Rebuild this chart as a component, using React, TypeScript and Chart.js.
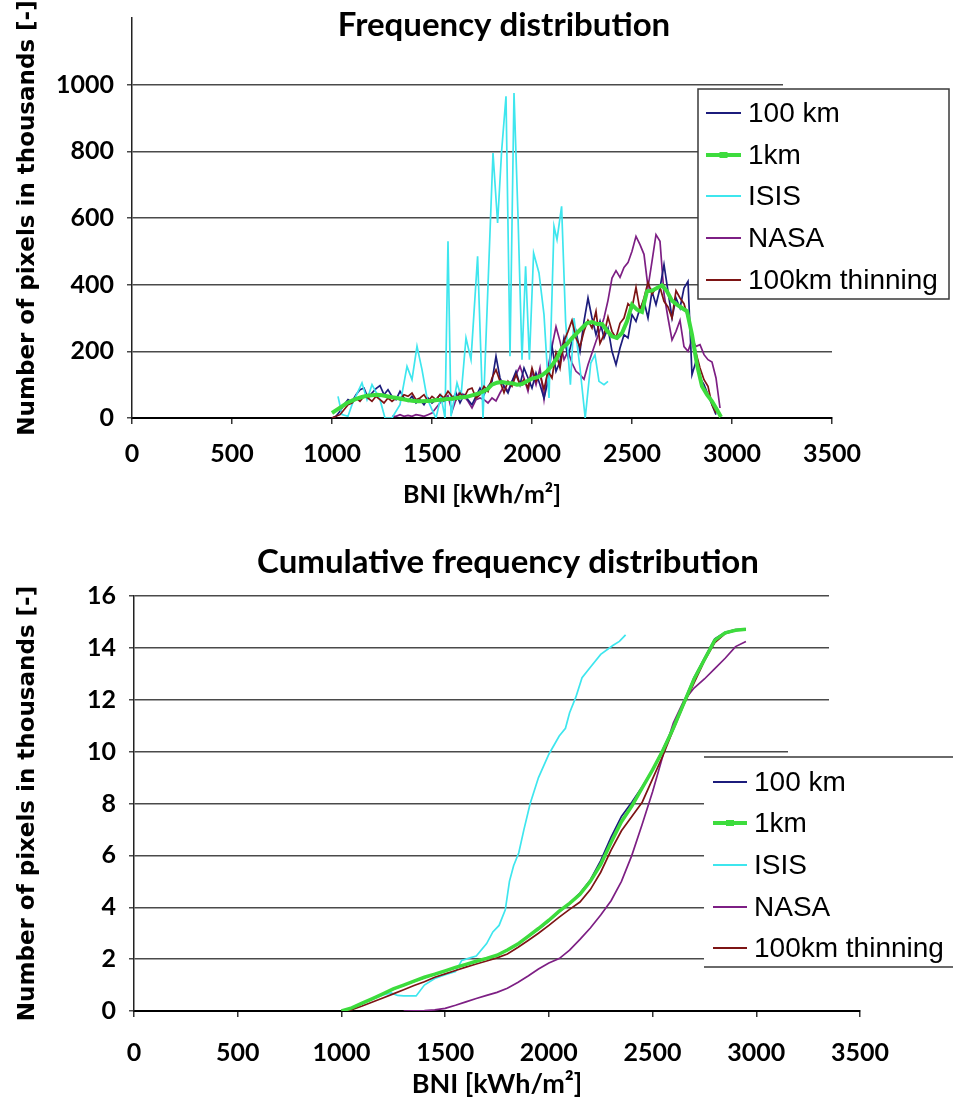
import React, { useEffect, useRef } from 'react';
import { Chart, registerables } from 'chart.js';

Chart.register(...registerables);

// ---------- Frequency distribution (values in thousands of pixels) ----------
const FREQ_BNI = [
  1000, 1020, 1040, 1060, 1080, 1100, 1120, 1140, 1160, 1180, 1200, 1220, 1240, 1260, 1280, 1300,
  1320, 1340, 1360, 1380, 1400, 1420, 1440, 1460, 1480, 1500, 1520, 1540, 1560, 1580, 1600, 1620,
  1640, 1660, 1680, 1700, 1720, 1740, 1760, 1780, 1800, 1820, 1840, 1860, 1880, 1900, 1920, 1940,
  1960, 1980, 2000, 2020, 2040, 2060, 2080, 2100, 2120, 2140, 2160, 2180, 2200, 2220, 2240, 2260,
  2280, 2300, 2320, 2340, 2360, 2380, 2400, 2420, 2440, 2460, 2480, 2500, 2520, 2540, 2560, 2580,
  2600, 2620, 2640, 2660, 2680, 2700, 2720, 2740, 2760, 2780, 2800, 2820, 2840, 2860, 2880, 2900, 2920,
];
const FREQ_100KM = [
  0, 5, 20, 40, 55, 48, 70, 85, 90, 60, 75, 88, 97, 70, 85, 65,
  55, 80, 60, 50, 65, 45, 55, 40, 60, 45, 55, 70, 50, 60, 55, 75,
  45, 70, 55, 40, 65, 90, 70, 95, 110, 185, 120, 95, 75, 110, 140, 100,
  150, 120, 90, 135, 100, 60, 110, 215, 140, 170, 240, 185, 230, 260, 200, 290,
  360, 300, 250, 290, 240, 270, 200, 160, 210, 250, 240, 310, 290, 330, 350, 300,
  380, 340, 390, 460, 380, 300, 360, 330, 390, 410, 130, 170, 120, 100, 70, 40, 10,
];
const FREQ_THIN = [
  0, 5, 10, 25, 40, 45, 60, 50, 65, 60, 50, 65, 55, 45, 60, 50,
  60, 55, 70, 65, 75, 55, 60, 70, 50, 65, 55, 70, 60, 80, 65, 55,
  75, 60, 85, 90, 60, 70, 95, 80, 120, 145, 110, 76, 110, 95, 130, 100,
  115, 90, 150, 110, 130, 86, 140, 120, 195, 150, 230, 260, 293, 240, 214, 260,
  293, 270, 320, 224, 250, 303, 260, 240, 284, 300, 343, 330, 392, 323, 360, 407,
  372, 390, 392, 350, 333, 300, 382, 360, 343, 300, 250, 195, 150, 115, 95, 40, 15,
];
const FREQ_NASA_BNI = [
  1300, 1320, 1340, 1360, 1380, 1400, 1420, 1440, 1460, 1480, 1500, 1520, 1540, 1560, 1580, 1600,
  1620, 1640, 1660, 1680, 1700, 1720, 1740, 1760, 1780, 1800, 1820, 1840, 1860, 1880, 1900, 1920,
  1940, 1960, 1980, 2000, 2020, 2040, 2060, 2080, 2100, 2120, 2140, 2160, 2180, 2200, 2220, 2240,
  2260, 2280, 2300, 2320, 2340, 2360, 2380, 2400, 2420, 2440, 2460, 2480, 2500, 2520, 2540, 2560,
  2580, 2600, 2620, 2640, 2660, 2680, 2700, 2720, 2740, 2760, 2780, 2800, 2820, 2840, 2860, 2880,
  2900, 2920, 2940,
];
const FREQ_NASA = [
  5, 5, 10, 5, 8, 5, 10, 8, 5, 10, 15, 30, 45, 60, 67, 20,
  55, 80, 65, 50, 30, 55, 60, 55, 45, 60, 51, 75, 96, 80, 110, 130,
  155, 120, 80, 140, 100, 150, 56, 150, 214, 274, 230, 175, 200, 165, 140, 130,
  116, 160, 195, 230, 264, 300, 353, 420, 442, 422, 452, 466, 500, 545, 520, 491,
  392, 470, 550, 530, 372, 300, 234, 260, 293, 214, 200, 235, 215, 220, 190, 175,
  168, 120, 30,
];
const FREQ_ISIS_BNI = [
  1030, 1050, 1080, 1100, 1150, 1175, 1200, 1240, 1265, 1300, 1340, 1375, 1400, 1425, 1450, 1475,
  1500, 1520, 1545, 1565, 1580, 1595, 1625, 1645, 1670, 1695, 1728, 1755, 1805, 1828, 1848, 1870,
  1890, 1910, 1930, 1950, 1968, 1987, 2008, 2035, 2060, 2085, 2110, 2125, 2148, 2168, 2192, 2210,
  2240, 2266, 2294, 2315, 2335, 2360, 2380,
];
const FREQ_ISIS = [
  65, 10, 5, 40, 105, 55, 100, 55, 0, 0, 40, 155, 115, 215, 145, 60,
  25, 0, 65, 0, 530, 5, 105, 65, 240, 175, 485, 0, 795, 585, 800, 965,
  185, 975, 605, 175, 455, 175, 495, 435, 310, 60, 575, 535, 635, 290, 100, 300,
  150, 0, 165, 190, 110, 100, 110,
];
const FREQ_1KM_BNI = [
  1000, 1025, 1050, 1075, 1100, 1125, 1150, 1175, 1200, 1225, 1250, 1275, 1300, 1325, 1350, 1375,
  1400, 1425, 1450, 1475, 1500, 1525, 1550, 1575, 1600, 1625, 1650, 1675, 1700, 1725, 1750, 1775,
  1800, 1825, 1850, 1875, 1900, 1925, 1950, 1975, 2000, 2025, 2050, 2075, 2100, 2125, 2150, 2175,
  2200, 2225, 2250, 2275, 2300, 2325, 2350, 2375, 2400, 2425, 2450, 2475, 2500, 2525, 2550, 2575,
  2600, 2625, 2650, 2675, 2700, 2725, 2750, 2775, 2800, 2825, 2850, 2875, 2900, 2925, 2945,
];
const FREQ_1KM = [
  15, 25, 35, 45, 52, 58, 63, 67, 68, 70, 68, 65, 62, 60, 57, 54,
  52, 50, 50, 51, 52, 54, 55, 57, 58, 60, 62, 64, 68, 72, 78, 85,
  100, 106, 108, 105, 104, 100, 102, 110, 118, 122, 128, 140, 158, 180, 210, 222,
  240, 255, 270, 285, 288, 282, 282, 262, 245, 240, 255, 290, 340, 325, 318, 380,
  382, 390, 398, 380, 352, 340, 330, 320, 250, 160, 95, 70, 50, 25, 3,
];

// ---------- Cumulative frequency distribution (thousands of pixels) ----------
const CUM_BNI = [
  1000, 1050, 1100, 1150, 1200, 1250, 1300, 1350, 1400, 1450, 1500, 1550, 1600, 1650, 1700, 1750,
  1800, 1850, 1900, 1950, 2000, 2050, 2100, 2150, 2200, 2250, 2300, 2350, 2400, 2450, 2500, 2550,
  2600, 2650, 2700, 2750, 2800, 2850, 2900, 2950,
];
const CUM_100KM = [
  0, 0.1, 0.28, 0.47, 0.65, 0.84, 0.99, 1.14, 1.28, 1.41, 1.54, 1.67, 1.79, 1.91, 2.02, 2.15,
  2.36, 2.58, 2.87, 3.15, 3.47, 3.82, 4.15, 4.55, 5.05, 5.8, 6.7, 7.5, 8.05, 8.65, 9.3, 10.1,
  10.95, 11.9, 12.85, 13.6, 14.35, 14.6, 14.7, 14.72,
];
const CUM_1KM = [
  0, 0.12, 0.3, 0.48, 0.66, 0.85, 1.0, 1.15, 1.3, 1.42, 1.55, 1.68, 1.8, 1.92, 2.03, 2.15,
  2.35, 2.58, 2.88, 3.18, 3.5, 3.85, 4.15, 4.5, 5.0, 5.65, 6.5, 7.3, 7.9, 8.6, 9.3, 10.05,
  10.9, 11.85, 12.8, 13.55, 14.3, 14.58, 14.68, 14.72,
];
const CUM_THIN = [
  0, 0.05, 0.19, 0.35, 0.5, 0.66, 0.82, 0.98, 1.13, 1.3, 1.43, 1.56, 1.69, 1.81, 1.93, 2.05,
  2.2, 2.45, 2.72, 3.0, 3.3, 3.62, 3.92, 4.2, 4.68, 5.35, 6.2, 6.95, 7.5, 8.05, 8.95, 9.85,
  10.85, 11.8, 12.65, 13.5, 14.2, 14.55, 14.67, 14.7,
];
const CUM_NASA_BNI = [
  1300, 1350, 1400, 1450, 1500, 1550, 1600, 1650, 1700, 1750, 1800, 1850, 1900, 1950, 2000, 2050,
  2100, 2150, 2200, 2250, 2300, 2350, 2400, 2450, 2500, 2550, 2600, 2650, 2700, 2750, 2800, 2850,
  2900, 2950,
];
const CUM_NASA = [
  0, 0.01, 0.02, 0.04, 0.1, 0.22, 0.35, 0.48, 0.6, 0.72, 0.88, 1.1, 1.35, 1.62, 1.85, 2.02,
  2.35, 2.76, 3.2, 3.7, 4.25, 5.0, 6.0, 7.2, 8.45, 9.85, 11.1, 11.95, 12.45, 12.8, 13.2, 13.6,
  14.05, 14.25,
];
const CUM_ISIS_BNI = [
  1030, 1050, 1100, 1150, 1200, 1240, 1270, 1300, 1360, 1400, 1450, 1500, 1550, 1580, 1620, 1650,
  1700, 1730, 1760, 1790, 1810, 1830, 1855, 1880, 1910, 1950, 2000, 2050, 2080, 2100, 2130, 2160,
  2200, 2250, 2310, 2340, 2370,
];
const CUM_ISIS = [
  0.05, 0.13, 0.28, 0.45, 0.62, 0.7, 0.6, 0.58, 0.58, 1.0, 1.25, 1.4, 1.52, 1.95, 2.05, 2.12,
  2.6, 3.05, 3.3, 3.9, 5.0, 5.6, 6.1, 7.0, 8.0, 9.0, 9.9, 10.6, 10.9, 11.5, 12.1, 12.85,
  13.25, 13.75, 14.1, 14.25, 14.5,
];

const SERIES_LABELS = ['100 km', '1km', 'ISIS', 'NASA', '100km thinning'];
const SERIES_COLORS = ['#1c1c7c', '#3ddc3d', '#3ee6ee', '#7d1f84', '#7d1414'];

const X_TICKS = [0, 500, 1000, 1500, 2000, 2500, 3000, 3500];

const FONT_BOLD = 'Lato, "DejaVu Sans", sans-serif';
const TICK_FONT = { family: FONT_BOLD, weight: 'bold' as const, size: 25 };
const Y_TITLE_FONT = { family: '"DejaVu Sans", sans-serif', weight: 'bold' as const, size: 23 };

function pts(xs: number[], ys: number[]) {
  return xs.map((x, i) => ({ x, y: ys[i] }));
}

type LegendCfg = {
  x: number; y: number; w: number; h: number; box: boolean;
  rows: number[]; sx1: number; sx2: number; tx: number;
};
type PanelCfg = {
  title: string; titleX: number; titleY: number;
  covers: number[][];
  legend: LegendCfg;
};

function makeOverlay(cfg: PanelCfg) {
  return {
    id: 'overlay',
    afterDraw(chart: any) {
      const ctx: CanvasRenderingContext2D = chart.ctx;
      ctx.save();
      ctx.fillStyle = '#ffffff';
      cfg.covers.forEach((r) => ctx.fillRect(r[0], r[1], r[2], r[3]));
      const L = cfg.legend;
      ctx.fillRect(L.x, L.y, L.w, L.h);
      ctx.strokeStyle = '#3a3a3a';
      ctx.lineWidth = 1.5;
      if (L.box) {
        ctx.strokeRect(L.x, L.y, L.w, L.h);
      } else {
        ctx.beginPath();
        ctx.moveTo(L.x, L.y);
        ctx.lineTo(L.x + L.w, L.y);
        ctx.moveTo(L.x, L.y + L.h);
        ctx.lineTo(L.x + L.w, L.y + L.h);
        ctx.stroke();
      }
      ctx.font = '28px "Liberation Sans", Arial, sans-serif';
      ctx.textAlign = 'left';
      ctx.textBaseline = 'middle';
      chart.data.datasets.forEach((ds: any, i: number) => {
        const y = L.rows[i];
        ctx.strokeStyle = ds.borderColor;
        ctx.lineWidth = i === 1 ? 4 : 2.2;
        ctx.beginPath();
        ctx.moveTo(L.sx1, y);
        ctx.lineTo(L.sx2, y);
        ctx.stroke();
        if (i === 1) {
          ctx.fillStyle = ds.borderColor;
          ctx.fillRect((L.sx1 + L.sx2) / 2 - 4, y - 3, 8, 6);
        }
        ctx.fillStyle = '#000';
        ctx.fillText(ds.label, L.tx, y + 1);
      });
      ctx.font = 'bold 33px ' + FONT_BOLD;
      ctx.textAlign = 'center';
      ctx.fillStyle = '#000';
      ctx.fillText(cfg.title, cfg.titleX, cfg.titleY);
      ctx.restore();
    },
  };
}

type PanelProps = {
  top: number;
  height: number;
  yMax: number;
  yStep: number;
  hideTop: boolean;
  padTop: number;
  padRight: number;
  axisLeft: number;
  xAxisHeight: number;
  xTickPad: number;
  xTitlePad: number;
  xTitleSize: number;
  lineW: number;
  greenW: number;
  data: { x: number; y: number }[][];
  cfg: PanelCfg;
};

function Panel(p: PanelProps) {
  const ref = useRef<HTMLCanvasElement | null>(null);
  useEffect(() => {
    if (!ref.current) return;
    const drawOrder = [3, -1, 2, 4, 1];
    const chart = new Chart(ref.current, {
      type: 'line',
      data: {
        datasets: p.data.map((d, i) => ({
          label: SERIES_LABELS[i],
          data: d,
          borderColor: SERIES_COLORS[i],
          backgroundColor: SERIES_COLORS[i],
          borderWidth: i === 1 ? p.greenW : p.lineW,
          pointRadius: 0,
          tension: 0,
          fill: false,
          order: drawOrder[i],
        })),
      },
      options: {
        animation: false,
        responsive: false,
        layout: { padding: { left: 0, top: p.padTop, right: p.padRight, bottom: 0 } },
        plugins: { legend: { display: false }, tooltip: { enabled: false }, title: { display: false } },
        scales: {
          x: {
            type: 'linear',
            min: 0,
            max: 3500,
            afterFit: (s: any) => {
              s.height = p.xAxisHeight;
              s.paddingLeft = 0;
              s.paddingRight = 0;
            },
            afterBuildTicks: (s: any) => { s.ticks = X_TICKS.map((v) => ({ value: v })); },
            ticks: {
              font: TICK_FONT,
              color: '#000',
              padding: p.xTickPad,
              maxRotation: 0,
              autoSkip: false,
              callback: (v: any) => String(v),
            },
            grid: { drawOnChartArea: false, drawTicks: true, tickLength: 6, color: '#333', lineWidth: 1.5 },
            border: { display: true, color: '#000', width: 2 },
            title: {
              display: true,
              text: 'BNI [kWh/m²]',
              font: { family: FONT_BOLD, weight: 'bold', size: p.xTitleSize },
              color: '#000',
              padding: { top: 0, bottom: p.xTitlePad },
            },
          },
          y: {
            min: 0,
            max: p.yMax,
            afterFit: (s: any) => {
              s.width = p.axisLeft;
              s.paddingTop = 0;
              s.paddingBottom = 0;
            },
            ticks: {
              stepSize: p.yStep,
              font: TICK_FONT,
              color: '#000',
              padding: 13,
              callback: (v: any) => (p.hideTop && v === p.yMax ? '' : String(v)),
            },
            grid: {
              color: (c: any) => (p.hideTop && c.tick && c.tick.value === p.yMax ? 'rgba(0,0,0,0)' : '#4a4a4a'),
              lineWidth: 1.5,
              tickLength: 5,
            },
            border: { display: true, color: '#222', width: 1.5 },
            title: {
              display: true,
              text: 'Number of pixels in thousands [-]',
              font: Y_TITLE_FONT,
              color: '#000',
              padding: { top: 14, bottom: 0 },
            },
          },
        },
      },
      plugins: [makeOverlay(p.cfg)],
    } as any);
    return () => chart.destroy();
  }, []);
  return (
    <div style={{ position: 'absolute', left: 0, top: p.top, width: 953, height: p.height }}>
      <canvas ref={ref} width={953} height={p.height} style={{ display: 'block', width: 953, height: p.height }} />
    </div>
  );
}

export default function App() {
  const freqData = [
    pts(FREQ_BNI, FREQ_100KM),
    pts(FREQ_1KM_BNI, FREQ_1KM),
    pts(FREQ_ISIS_BNI, FREQ_ISIS),
    pts(FREQ_NASA_BNI, FREQ_NASA),
    pts(FREQ_BNI, FREQ_THIN),
  ];
  const cumData = [
    pts(CUM_BNI, CUM_100KM),
    pts(CUM_BNI, CUM_1KM),
    pts(CUM_ISIS_BNI, CUM_ISIS),
    pts(CUM_NASA_BNI, CUM_NASA),
    pts(CUM_BNI, CUM_THIN),
  ];
  const cfgTop: PanelCfg = {
    title: 'Frequency distribution',
    titleX: 504,
    titleY: 25,
    covers: [[783, 78, 170, 10]],
    legend: { x: 698, y: 89, w: 251, h: 210, box: true, rows: [113, 155, 196, 238, 280], sx1: 706, sx2: 741, tx: 748 },
  };
  const cfgBottom: PanelCfg = {
    title: 'Cumulative frequency distribution',
    titleX: 508,
    titleY: 32,
    covers: [[829, 55, 124, 420], [788, 217, 165, 9]],
    legend: { x: 704, y: 227, w: 260, h: 210, box: false, rows: [252, 293, 335, 377, 418], sx1: 713, sx2: 747, tx: 754 },
  };
  return (
    <div style={{ position: 'absolute', left: 0, top: 0, width: 953, height: 1111, background: '#fff' }}>
      <Panel
        top={0}
        height={525}
        yMax={1200}
        yStep={200}
        hideTop={true}
        padTop={18}
        padRight={121}
        axisLeft={132}
        xAxisHeight={107}
        xTickPad={15}
        xTitlePad={15}
        xTitleSize={25}
        lineW={1.7}
        greenW={4}
        data={freqData}
        cfg={cfgTop}
      />
      <Panel
        top={530}
        height={581}
        yMax={16}
        yStep={2}
        hideTop={false}
        padTop={66}
        padRight={93}
        axisLeft={134}
        xAxisHeight={100}
        xTickPad={21}
        xTitlePad={11}
        xTitleSize={27}
        lineW={1.7}
        greenW={3.5}
        data={cumData}
        cfg={cfgBottom}
      />
    </div>
  );
}
